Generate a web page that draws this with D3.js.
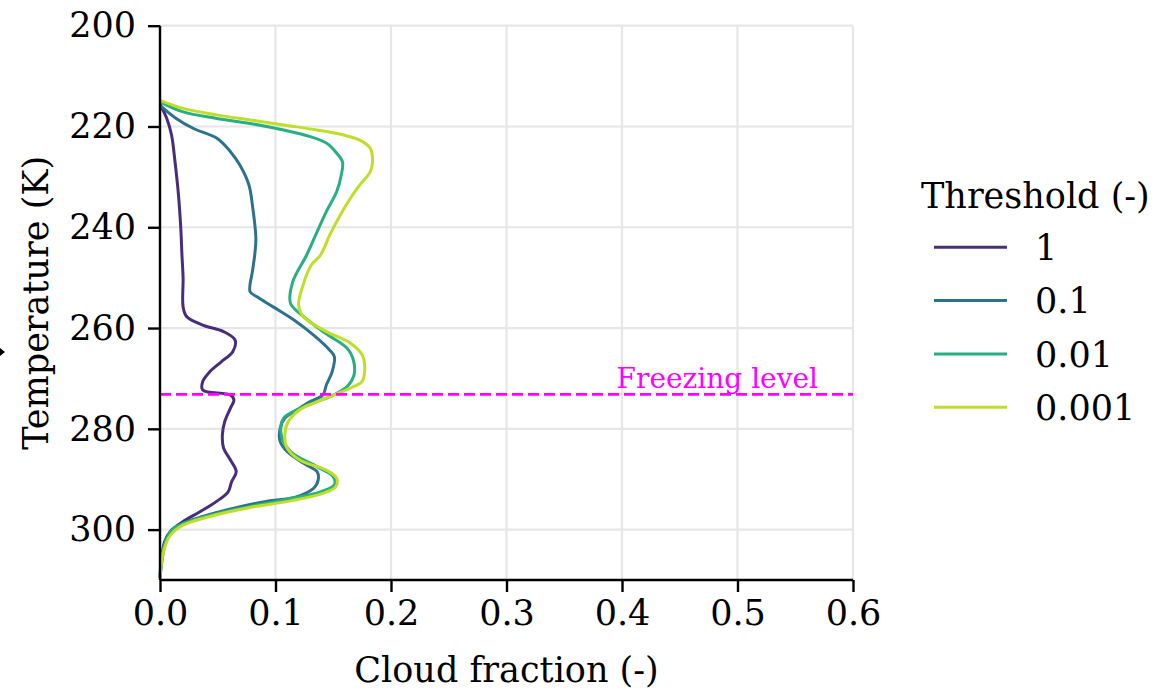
<!DOCTYPE html>
<html>
<head>
<meta charset="utf-8">
<script src="https://cdn.jsdelivr.net/npm/d3@7"></script>
<style>
  html, body { margin: 0; padding: 0; background: #fff; }
  svg { display: block; }
  text { font-family: "DejaVu Serif", serif; }
</style>
</head>
<body>
<svg id="chart" width="1157" height="690"></svg>
<script>
// ---- Data (temperature K, cloud fraction) ----
const thresholds = ["1", "0.1", "0.01", "0.001"];
const xTicks = [0.0, 0.1, 0.2, 0.3, 0.4, 0.5, 0.6];
const yTicks = [200, 220, 240, 260, 280, 300];
const freezingLevel = 273.15;

const tempT1 = [215.6, 218.5, 221.7, 227.0, 233.6, 240.2, 245.5, 250.1, 255.8, 257.7, 259.4, 260.7, 262.4, 264.7, 266.7, 268.7, 270.6, 272.3, 273.3, 274.3, 275.9, 278.6, 281.2, 283.8, 286.2, 288.5, 290.5, 292.5, 294.4, 296.4, 298.4, 300.1, 302.4, 306.3, 309.6];
const cfT1   = [0.000, 0.006, 0.010, 0.013, 0.016, 0.018, 0.019, 0.020, 0.020, 0.023, 0.037, 0.055, 0.065, 0.063, 0.053, 0.043, 0.037, 0.037, 0.061, 0.064, 0.061, 0.056, 0.054, 0.055, 0.061, 0.066, 0.062, 0.059, 0.049, 0.035, 0.020, 0.010, 0.004, 0.001, 0.000];

const tempT01 = [215.8, 218.4, 220.4, 222.3, 225.0, 227.6, 231.6, 235.6, 242.2, 245.5, 248.8, 252.8, 253.8, 255.8, 258.4, 261.4, 264.4, 265.7, 268.7, 271.3, 273.3, 274.6, 275.9, 277.9, 279.9, 282.5, 284.5, 286.8, 288.5, 290.1, 291.8, 293.5, 294.4, 295.8, 297.4, 299.1, 301.1, 304.4, 309.6];
const cfT01   = [0.000, 0.014, 0.029, 0.049, 0.061, 0.069, 0.077, 0.080, 0.083, 0.082, 0.080, 0.078, 0.084, 0.098, 0.116, 0.133, 0.147, 0.151, 0.149, 0.144, 0.141, 0.130, 0.121, 0.108, 0.104, 0.104, 0.110, 0.124, 0.136, 0.137, 0.133, 0.118, 0.092, 0.063, 0.037, 0.017, 0.007, 0.003, 0.000];

const tempT001 = [215.1, 217.1, 218.4, 219.4, 220.7, 222.0, 223.3, 225.3, 227.0, 229.6, 232.9, 236.9, 240.9, 245.5, 250.8, 255.1, 257.1, 260.7, 264.0, 266.0, 269.3, 271.6, 273.3, 274.6, 276.1, 277.9, 281.2, 284.5, 287.5, 289.5, 291.1, 292.5, 294.1, 296.1, 298.1, 299.7, 301.7, 304.8, 309.6];
const cfT001   = [0.000, 0.020, 0.049, 0.078, 0.107, 0.130, 0.144, 0.153, 0.158, 0.157, 0.153, 0.144, 0.136, 0.127, 0.115, 0.113, 0.121, 0.141, 0.162, 0.167, 0.168, 0.162, 0.150, 0.136, 0.120, 0.107, 0.105, 0.113, 0.136, 0.150, 0.151, 0.139, 0.107, 0.063, 0.029, 0.012, 0.006, 0.002, 0.000];

const tempT0001 = [214.8, 216.4, 217.7, 218.7, 219.7, 220.7, 221.7, 222.7, 224.3, 227.0, 229.0, 231.6, 234.2, 237.6, 241.5, 245.5, 247.5, 252.1, 255.4, 257.7, 260.7, 263.0, 265.3, 267.0, 269.0, 270.6, 271.9, 273.6, 274.9, 276.2, 278.6, 281.2, 283.8, 286.2, 288.2, 289.8, 291.5, 292.8, 294.3, 295.6, 297.4, 299.1, 301.1, 304.4, 309.6];
const cfT0001   = [0.000, 0.020, 0.049, 0.078, 0.107, 0.136, 0.159, 0.173, 0.182, 0.184, 0.182, 0.173, 0.165, 0.156, 0.147, 0.139, 0.131, 0.123, 0.120, 0.124, 0.144, 0.165, 0.175, 0.177, 0.177, 0.175, 0.165, 0.147, 0.133, 0.121, 0.111, 0.108, 0.110, 0.121, 0.144, 0.153, 0.152, 0.141, 0.113, 0.078, 0.043, 0.020, 0.009, 0.003, 0.000];

const seriesColors = ["#472d7b", "#2c718e", "#28ae80", "#bddf26"];

// ---- Layout ----
const svg = d3.select("#chart");
const plotL = 160, plotR = 853, plotT = 25.7, plotB = 580;

const x = d3.scaleLinear().domain([0, 0.6]).range([plotL, plotR]);
const y = d3.scaleLinear().domain([200, 310]).range([plotT, plotB]);

// grid
const grid = svg.append("g");
grid.selectAll("line.vg").data(xTicks).join("line")
  .attr("x1", d => x(d)).attr("x2", d => x(d))
  .attr("y1", plotT).attr("y2", plotB)
  .attr("stroke", "#e6e6e6").attr("stroke-width", 2.2);
grid.selectAll("line.hg").data(yTicks).join("line")
  .attr("x1", plotL).attr("x2", plotR)
  .attr("y1", d => y(d)).attr("y2", d => y(d))
  .attr("stroke", "#e6e6e6").attr("stroke-width", 2.2);

// series
const series = [
  {name: thresholds[0], t: tempT1, c: cfT1},
  {name: thresholds[1], t: tempT01, c: cfT01},
  {name: thresholds[2], t: tempT001, c: cfT001},
  {name: thresholds[3], t: tempT0001, c: cfT0001}
];
const line = d3.line().x(d => x(d[1])).y(d => y(d[0])).curve(d3.curveCatmullRom.alpha(0.5));
series.forEach((s, i) => {
  svg.append("path")
    .datum(s.t.map((t, j) => [t, s.c[j]]))
    .attr("d", line)
    .attr("fill", "none")
    .attr("stroke", seriesColors[i])
    .attr("stroke-width", 3)
    .attr("stroke-linejoin", "round");
});

// freezing level
svg.append("line")
  .attr("x1", plotL).attr("x2", plotR)
  .attr("y1", y(freezingLevel)).attr("y2", y(freezingLevel))
  .attr("stroke", "#ff00ff").attr("stroke-width", 2.8)
  .attr("stroke-dasharray", "11,5");
svg.append("text")
  .attr("x", 818).attr("y", y(freezingLevel) - 6)
  .attr("text-anchor", "end")
  .attr("font-size", 28)
  .attr("fill", "#ff00ff")
  .text("Freezing level");

// axes
const xAxis = d3.axisBottom(x).tickValues(xTicks).tickFormat(d3.format(".1f")).tickSize(12).tickPadding(8);
const yAxis = d3.axisLeft(y).tickValues(yTicks).tickFormat(d3.format("d")).tickSize(12).tickPadding(12);

const gx = svg.append("g").attr("transform", `translate(0,${plotB})`).call(xAxis);
const gy = svg.append("g").attr("transform", `translate(${plotL},0)`).call(yAxis);
[gx, gy].forEach(g => {
  g.select(".domain").attr("stroke", "#000").attr("stroke-width", 2.4);
  g.selectAll(".tick line").attr("stroke", "#000").attr("stroke-width", 2.4);
  g.selectAll(".tick text").attr("font-size", 35).attr("fill", "#000")
    .attr("font-family", "DejaVu Serif");
});
gx.select(".domain").attr("d", `M${plotL},0H${plotR}`);
gy.select(".domain").attr("d", `M0,${plotT}V${plotB}`);

// axis labels
svg.append("text")
  .attr("x", (plotL + plotR) / 2).attr("y", 682)
  .attr("text-anchor", "middle").attr("font-size", 35)
  .text("Cloud fraction (-)");
svg.append("text")
  .attr("transform", `translate(48,${(plotT + plotB) / 2}) rotate(-90)`)
  .attr("text-anchor", "middle").attr("font-size", 35)
  .text("Temperature (K)");

// small clipped mark at left edge
svg.append("path").attr("d", "M0,348L5,352L0,356Z").attr("fill", "#000");

// legend
const legend = svg.append("g");
legend.append("text").attr("x", 921).attr("y", 208).attr("font-size", 35).text("Threshold (-)");
thresholds.forEach((th, i) => {
  const ly = 247.3 + i * 53.3;
  legend.append("line").attr("x1", 934).attr("x2", 1007).attr("y1", ly).attr("y2", ly)
    .attr("stroke", seriesColors[i]).attr("stroke-width", 3);
  legend.append("text").attr("x", 1035).attr("y", ly + 12.7).attr("font-size", 35).text(th);
});
</script>
</body>
</html>
